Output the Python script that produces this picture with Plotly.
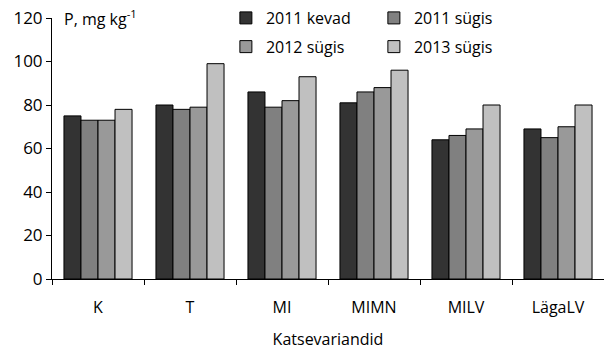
import plotly.graph_objects as go

categories = ["K", "T", "MI", "MIMN", "MILV", "LägaLV"]
series_names = ["2011 kevad", "2011 sügis", "2012 sügis", "2013 sügis"]
v_2011_kevad = [75, 80, 86, 81, 64, 69]
v_2011_sygis = [73, 78, 79, 86, 66, 65]
v_2012_sygis = [73, 79, 82, 88, 69, 70]
v_2013_sygis = [78, 99, 93, 96, 80, 80]
colors = ["#333333", "#808080", "#999999", "#c0c0c0"]
y_ticks = [0, 20, 40, 60, 80, 100, 120]

FONT = "Open Sans"
values = [v_2011_kevad, v_2011_sygis, v_2012_sygis, v_2013_sygis]
legends = ["legend", "legend", "legend2", "legend2"]

fig = go.Figure()
for name, vals, col, lg in zip(series_names, values, colors, legends):
    fig.add_trace(go.Bar(
        x=categories, y=vals, name=name,
        marker=dict(color=col, line=dict(color="#000000", width=1)),
        legend=lg,
    ))

legend_common = dict(
    orientation="h", xanchor="left", yanchor="middle",
    font=dict(family=FONT, size=16, color="#000000"),
    bgcolor="rgba(0,0,0,0)", entrywidth=103, entrywidthmode="pixels",
    itemwidth=30, tracegroupgap=0,
)

fig.update_layout(
    width=604, height=351,
    margin=dict(l=52, r=0, t=18, b=72),
    paper_bgcolor="white", plot_bgcolor="white",
    barmode="group", bargap=0.26, bargroupgap=0,
    font=dict(family=FONT, size=16, color="#000000"),
    legend=dict(x=0.315, y=1.0, **legend_common),
    legend2=dict(x=0.315, y=0.89, **legend_common),
    xaxis=dict(
        showline=True, linecolor="#000000", linewidth=1,
        ticks="outside", tickson="boundaries", ticklen=5, tickcolor="#000000",
        showgrid=False, range=[-0.5, 5.5],
        ticklabelstandoff=14,
        title=dict(text="Katsevariandid", font=dict(family=FONT, size=16), standoff=16),
        tickfont=dict(family=FONT, size=16),
    ),
    yaxis=dict(
        range=[0, 120], tickvals=y_ticks,
        showline=True, linecolor="#000000", linewidth=1,
        ticks="outside", ticklen=5, tickcolor="#000000",
        showgrid=False, zeroline=False,
        tickfont=dict(family=FONT, size=17),
    ),
    annotations=[dict(
        text="P, mg kg<sup>-1</sup>", x=0.018, y=1.0, xref="paper", yref="paper",
        xanchor="left", yanchor="middle", showarrow=False,
        font=dict(family=FONT, size=16, color="#000000"),
    )],
)

fig.write_html("out.html")
